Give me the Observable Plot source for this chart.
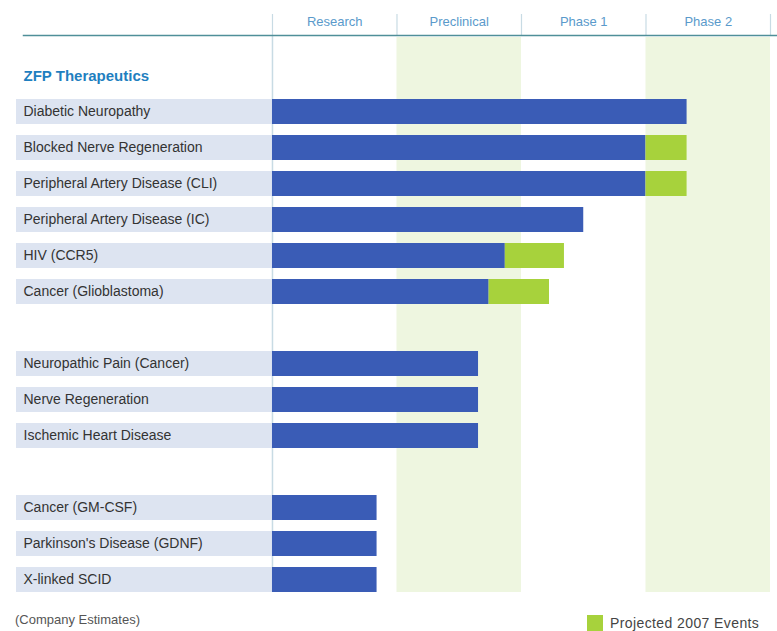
<!DOCTYPE html>
<html>
<head>
<meta charset="utf-8">
<script src="https://cdn.jsdelivr.net/npm/d3@7"></script>
<script src="https://cdn.jsdelivr.net/npm/@observablehq/plot@0.6"></script>
<style>
  body { margin: 0; background: #fff; font-family: Arial, "Liberation Sans", sans-serif; }
  #wrap { width: 777px; }
  #footer { position: relative; width: 777px; height: 31px; }
  #footer .note { position: absolute; left: 15px; top: 12px; font-size: 13px; line-height: 15px; color: #555; }
  #footer .swatch { position: absolute; left: 587px; top: 15px; width: 16px; height: 16px; background: #a7d23c; }
  #footer .leg { position: absolute; left: 610px; top: 15px; font-size: 14px; line-height: 16px; color: #444; letter-spacing: 0.4px; }
</style>
</head>
<body>
<div id="wrap">
  <div id="chart"></div>
  <div id="footer">
    <span class="note">(Company Estimates)</span>
    <div class="swatch"></div>
    <span class="leg">Projected 2007 Events</span>
  </div>
</div>
<script>
// ---- data ----
const stages = ["Research", "Preclinical", "Phase 1", "Phase 2"];
const groupTitle = "ZFP Therapeutics";
const programs = [
  "Diabetic Neuropathy",
  "Blocked Nerve Regeneration",
  "Peripheral Artery Disease (CLI)",
  "Peripheral Artery Disease (IC)",
  "HIV (CCR5)",
  "Cancer (Glioblastoma)",
  "Neuropathic Pain (Cancer)",
  "Nerve Regeneration",
  "Ischemic Heart Disease",
  "Cancer (GM-CSF)",
  "Parkinson's Disease (GDNF)",
  "X-linked SCID"
];
const groups = [1, 1, 1, 1, 1, 1, 2, 2, 2, 3, 3, 3];
// progress in stage units (0 = start of Research, 4 = end of Phase 2)
const current   = [3.33, 3.0, 3.0, 2.5, 1.87, 1.74, 1.655, 1.655, 1.655, 0.84, 0.84, 0.84];
const projected = [3.33, 3.33, 3.33, 2.5, 2.345, 2.225, 1.655, 1.655, 1.655, 0.84, 0.84, 0.84];
const shadedStages = [1, 3]; // Preclinical, Phase 2

// ---- derived tables ----
const rows = programs.map((name, i) => ({name, group: groups[i], current: current[i], projected: projected[i]}));
const yDomain = [groupTitle];
rows.forEach((r, i) => {
  if (i > 0 && r.group !== rows[i - 1].group) yDomain.push("gap-" + r.group);
  yDomain.push(r.name);
});
const labelStart = -2.056; // left edge of the label column, in stage units
const growth = rows.filter(r => r.projected > r.current);

const BLUE = "#3a5cb6";
const GREEN = "#a7d23c";
const LABELBG = "#dde4f1";
const BAND = "#eef6e0";
const HEAD = "#5a9acb";

const chart = Plot.plot({
  width: 777,
  height: 600,
  marginTop: 35,
  marginBottom: 0,
  marginLeft: 16,
  marginRight: 7,
  style: {fontFamily: "Arial, 'Liberation Sans', sans-serif", background: "white"},
  x: {domain: [labelStart, 4], axis: null},
  y: {type: "band", domain: yDomain, paddingInner: 0.3, paddingOuter: 0.48, align: 0.777, axis: null},
  marks: [
    // shaded stage columns
    Plot.rectX(shadedStages, {x1: d => d, x2: d => d + 1, fill: BAND, insetTop: 2, insetBottom: 8}),
    // vertical divider at start of Research
    Plot.ruleX([0], {stroke: "#c8dbe4", strokeWidth: 1.5, insetBottom: 8}),
    // header separators
    Plot.axisX({anchor: "top", ticks: [0, 1, 2, 3, 4], tickSize: 22, tickFormat: () => "", stroke: "#c8dbe4", strokeWidth: 1.2, label: null}),
    // header line
    Plot.frame({anchor: "top", stroke: "#4f8f99", strokeWidth: 1.5, insetLeft: 7, insetRight: -7}),
    // header labels
    Plot.text(stages, {x: (d, i) => i + 0.5, frameAnchor: "top", lineAnchor: "middle", dy: -14, text: d => d, fontSize: 13, fill: HEAD}),
    // label background
    Plot.barX(rows, {x1: labelStart, x2: 0, y: "name", fill: LABELBG}),
    // current progress
    Plot.barX(rows, {x1: 0, x2: "current", y: "name", fill: BLUE}),
    // projected 2007
    Plot.barX(growth, {x1: "current", x2: "projected", y: "name", fill: GREEN}),
    // row labels
    Plot.text(rows, {x: labelStart, y: "name", text: "name", dx: 7, textAnchor: "start", fontSize: 14, fill: "#333"}),
    // group title
    Plot.text([groupTitle], {x: labelStart, y: d => d, text: d => d, dx: 7, textAnchor: "start", fontSize: 15, fontWeight: "bold", fill: "#1f7fc0"})
  ]
});
document.getElementById("chart").appendChild(chart);
</script>
</body>
</html>
